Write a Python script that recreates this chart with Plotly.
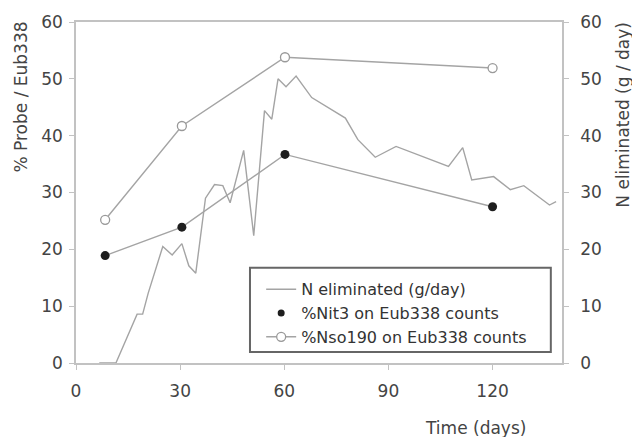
import plotly.graph_objects as go

# N eliminated (g/day), right axis
n_days = [6.7, 9.5, 11.5, 17.6, 19.2, 20.8, 25.0, 27.7, 30.5, 32.5, 34.5, 37.3, 39.9, 42.3, 44.4,
          48.3, 51.2, 54.3, 56.4, 58.2, 60.5, 63.4, 67.9, 77.6, 81.2, 86.2, 92.2, 107.3, 111.4,
          114.0, 120.3, 125.1, 129.0, 136.4, 138.3]
n_elim = [0.0, 0.0, 0.0, 8.6, 8.6, 12.3, 20.5, 19.0, 21.0, 17.1, 15.8, 29.0, 31.4, 31.2, 28.2,
          37.4, 22.4, 44.4, 42.9, 50.0, 48.6, 50.5, 46.7, 43.1, 39.3, 36.2, 38.1, 34.6, 37.9,
          32.2, 32.8, 30.5, 31.2, 27.8, 28.4]

# Probe percentages, left axis
probe_days = [8.4, 30.5, 60.2, 120.0]
nit3 = [18.9, 23.9, 36.7, 27.5]
nso190 = [25.2, 41.7, 53.8, 51.9]

ticks_y = [0, 10, 20, 30, 40, 50, 60]
ticks_x = [0, 30, 60, 90, 120]

line_col = "#a4a4a4"
axis_col = "#c2c2c2"
txt_col = "#444444"
font_family = "DejaVu Sans, sans-serif"

fig = go.Figure()
fig.add_trace(go.Scatter(x=n_days, y=n_elim, mode="lines", name="N eliminated (g/day)",
                         line=dict(color=line_col, width=1.4), yaxis="y2"))
fig.add_trace(go.Scatter(x=probe_days, y=nit3, mode="lines+markers", name="%Nit3 on Eub338 counts",
                         showlegend=False,
                         line=dict(color=line_col, width=1.4),
                         marker=dict(color="#1e1e1e", size=9, line=dict(width=0))))
# legend entry for Nit3 shows only the dot
fig.add_trace(go.Scatter(x=[None], y=[None], mode="markers", name="%Nit3 on Eub338 counts",
                         marker=dict(color="#1e1e1e", size=7, line=dict(width=0))))
fig.add_trace(go.Scatter(x=probe_days, y=nso190, mode="lines+markers", name="%Nso190 on Eub338 counts",
                         line=dict(color=line_col, width=1.4),
                         marker=dict(color="white", size=9, line=dict(color="#999999", width=1.3))))

common_axis = dict(showgrid=False, zeroline=False, showline=True, linecolor=axis_col,
                   linewidth=1.5, ticks="outside", ticklen=5, tickcolor=axis_col, tickwidth=1.2,
                   tickfont=dict(size=17, color=txt_col, family=font_family))

fig.update_layout(
    width=632, height=437,
    margin=dict(l=76, r=70, t=22, b=74),
    paper_bgcolor="white", plot_bgcolor="white",
    font=dict(family=font_family, size=16, color=txt_col),
    showlegend=True,
    legend=dict(x=0.381, y=0.266, xanchor="left", yanchor="top",
                borderwidth=0, bgcolor="rgba(0,0,0,0)",
                font=dict(size=16, color="#333333", family=font_family), tracegroupgap=0,
                itemwidth=30),
    shapes=[dict(type="rect", xref="paper", yref="paper", x0=0.358, x1=0.977, y0=0.032, y1=0.279,
                 line=dict(color="#666666", width=2), fillcolor="white", layer="below")],
    xaxis=dict(range=[0, 140], tickvals=ticks_x, mirror=True, ticklabelstandoff=7, **common_axis),
    yaxis=dict(range=[0, 60], tickvals=ticks_y, ticklabelstandoff=3, **common_axis),
    yaxis2=dict(range=[0, 60], tickvals=ticks_y, overlaying="y", side="right",
                ticklabelstandoff=8, **common_axis),
    annotations=[
        dict(text="% Probe / Eub338", xref="paper", yref="paper", x=-0.113, y=1.006,
             xanchor="center", yanchor="top", textangle=-90, showarrow=False,
             font=dict(size=17, color=txt_col)),
        dict(text="N eliminated (g / day)", xref="paper", yref="paper", x=1.125, y=1.006,
             xanchor="center", yanchor="top", textangle=-90, showarrow=False,
             font=dict(size=17, color=txt_col)),
        dict(text="Time (days)", xref="paper", yref="paper", x=0.823, y=-0.191,
             xanchor="center", yanchor="middle", showarrow=False,
             font=dict(size=17, color=txt_col)),
    ],
)

fig.write_html("out.html", config={"displayModeBar": False},
               post_script="document.body.style.margin='0px';")
